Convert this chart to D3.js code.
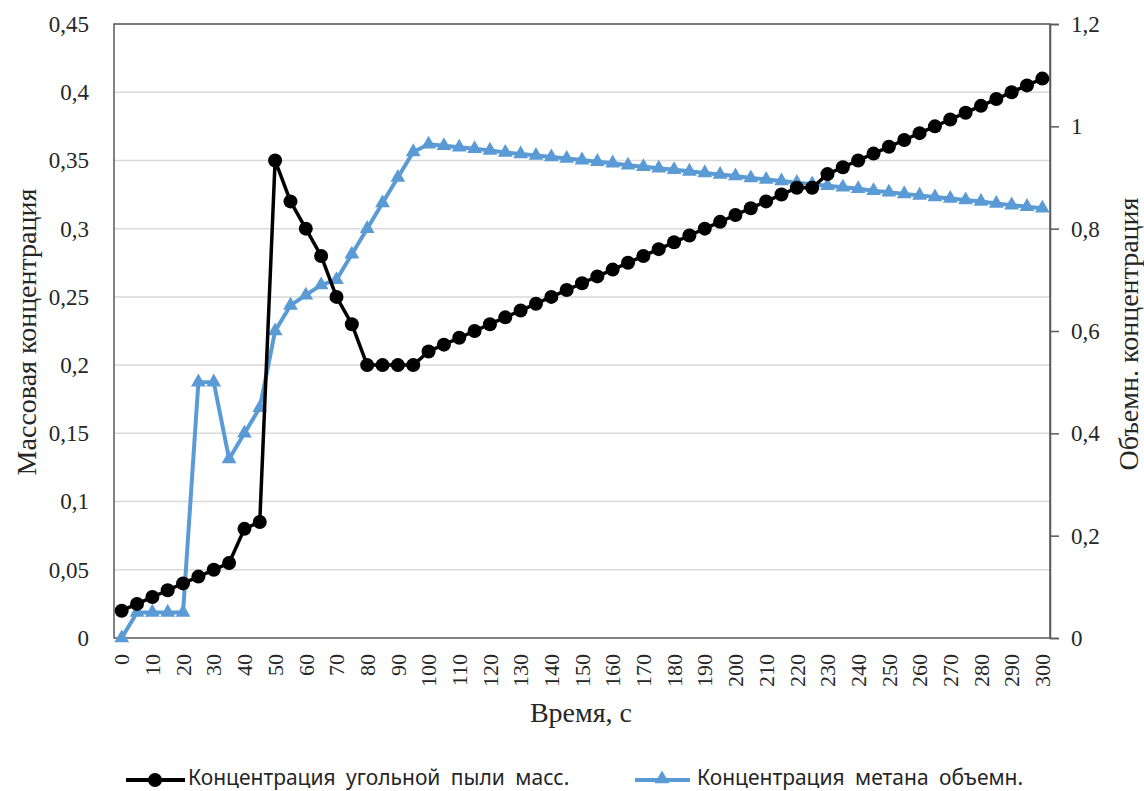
<!DOCTYPE html>
<html>
<head>
<meta charset="utf-8">
<script src="https://cdn.jsdelivr.net/npm/d3@7"></script>
<style>
  html, body { margin: 0; padding: 0; background: #fff; }
  svg { display: block; }
  svg text.serif { font-family: "Liberation Serif", "Times New Roman", Times, Tinos, "Noto Serif", "DejaVu Serif", FreeSerif, serif; }
</style>
</head>
<body>
<svg id="chart" width="1144" height="791"></svg>
<script>
// ---- Data ----
const times = [0,5,10,15,20,25,30,35,40,45,50,55,60,65,70,75,80,85,90,95,100,105,110,115,120,125,130,135,140,145,150,155,160,165,170,175,180,185,190,195,200,205,210,215,220,225,230,235,240,245,250,255,260,265,270,275,280,285,290,295,300];
const dustMass = [0.02,0.025,0.03,0.035,0.04,0.045,0.05,0.055,0.08,0.085,0.35,0.32,0.30,0.28,0.25,0.23,0.20,0.20,0.20,0.20,0.21,0.215,0.22,0.225,0.23,0.235,0.24,0.245,0.25,0.255,0.26,0.265,0.27,0.275,0.28,0.285,0.29,0.295,0.30,0.305,0.31,0.315,0.32,0.325,0.33,0.33,0.34,0.345,0.35,0.355,0.36,0.365,0.37,0.375,0.38,0.385,0.39,0.395,0.40,0.405,0.41];
const methaneVol = [0,0.05,0.05,0.05,0.05,0.5,0.5,0.35,0.4,0.45,0.6,0.65,0.67,0.69,0.7,0.75,0.8,0.85,0.9,0.95,0.965,0.962,0.959,0.956,0.953,0.949,0.946,0.943,0.94,0.937,0.934,0.931,0.928,0.924,0.921,0.918,0.915,0.912,0.909,0.906,0.903,0.899,0.896,0.893,0.89,0.887,0.884,0.881,0.878,0.874,0.871,0.868,0.865,0.862,0.859,0.856,0.853,0.849,0.846,0.843,0.84];
const leftTicks = [0,0.05,0.1,0.15,0.2,0.25,0.3,0.35,0.4,0.45];
const rightTicks = [0,0.2,0.4,0.6,0.8,1,1.2];
const xLabelTimes = times.filter(t => t % 10 === 0);
const seriesNames = ["Концентрация угольной пыли масс.", "Концентрация метана объемн."];
const axisTitles = { x: "Время, с", yLeft: "Массовая концентрация", yRight: "Объемн. концентрация" };

// ---- Layout ----
const L = 114, R = 1050, T = 24, B = 638;
const svg = d3.select("#chart");
const sans = "Noto Sans, DejaVu Sans, sans-serif";
const fmt = d => String(+d.toFixed(2)).replace(".", ",");

const x = d3.scaleBand().domain(times).range([L, R]).paddingInner(0).paddingOuter(0);
const cx = t => x(t) + x.bandwidth() / 2;
const yL = d3.scaleLinear().domain([0, 0.45]).range([B, T]);
const yR = d3.scaleLinear().domain([0, 1.2]).range([B, T]);

// gridlines
svg.append("g").selectAll("line").data(leftTicks.filter(d => d > 0)).join("line")
  .attr("x1", L).attr("x2", R).attr("y1", d => yL(d)).attr("y2", d => yL(d))
  .attr("stroke", "#d9d9d9").attr("stroke-width", 1.5);

// plot border
svg.append("rect").attr("x", L).attr("y", T).attr("width", R - L).attr("height", B - T)
  .attr("fill", "none").attr("stroke", "#595959").attr("stroke-width", 1.5);

// left axis
const gl = svg.append("g").attr("transform", `translate(${L},0)`)
  .call(d3.axisLeft(yL).tickValues(leftTicks).tickSize(0).tickPadding(25).tickFormat(fmt));
gl.attr("font-family", null);
gl.select(".domain").remove();
gl.selectAll("text").attr("class", "serif").attr("font-size", 23).attr("fill", "#262626");

// right axis
const gr = svg.append("g").attr("transform", `translate(${R},0)`)
  .call(d3.axisRight(yR).tickValues(rightTicks).tickSize(9).tickPadding(12).tickFormat(fmt));
gr.attr("font-family", null);
gr.select(".domain").attr("stroke", "#595959").attr("stroke-width", 1.5);
gr.selectAll(".tick line").attr("stroke", "#595959").attr("stroke-width", 1.5);
gr.selectAll("text").attr("class", "serif").attr("font-size", 23).attr("fill", "#262626");

// bottom axis
const gb = svg.append("g").attr("transform", `translate(0,${B})`)
  .call(d3.axisBottom(x).tickValues(xLabelTimes).tickSize(0));
gb.attr("font-family", null);
gb.select(".domain").remove();
gb.selectAll("text")
  .attr("transform", "rotate(-90)").attr("x", -16).attr("y", 0).attr("dy", "0.35em")
  .style("text-anchor", "end").attr("class", "serif").attr("font-size", 22).attr("fill", "#262626");

// axis titles
svg.append("text").attr("class", "serif").attr("x", 581).attr("y", 722).attr("text-anchor", "middle")
  .attr("font-size", 28).attr("fill", "#262626").text(axisTitles.x);
svg.append("text").attr("class", "serif").attr("transform", "translate(36,332) rotate(-90)").attr("text-anchor", "middle")
  .attr("font-size", 28).attr("fill", "#262626").text(axisTitles.yLeft);
svg.append("text").attr("class", "serif").attr("transform", "translate(1138,334) rotate(-90)").attr("text-anchor", "middle")
  .attr("font-size", 28).attr("fill", "#262626").text(axisTitles.yRight);

// series
const blue = "#5B9BD5";
const tri = d3.symbol().type(d3.symbolTriangle).size(95);

const lineL = d3.line().x((d, i) => cx(times[i])).y(d => yL(d));
const lineR = d3.line().x((d, i) => cx(times[i])).y(d => yR(d));

svg.append("path").datum(methaneVol).attr("d", lineR)
  .attr("fill", "none").attr("stroke", blue).attr("stroke-width", 4).attr("stroke-linejoin", "round");
svg.append("g").selectAll("path").data(methaneVol).join("path")
  .attr("d", tri).attr("transform", (d, i) => `translate(${cx(times[i])},${yR(d)})`).attr("fill", blue);

svg.append("path").datum(dustMass).attr("d", lineL)
  .attr("fill", "none").attr("stroke", "#000").attr("stroke-width", 3.5).attr("stroke-linejoin", "round");
svg.append("g").selectAll("circle").data(dustMass).join("circle")
  .attr("cx", (d, i) => cx(times[i])).attr("cy", d => yL(d)).attr("r", 7).attr("fill", "#000");

// legend
const lg = svg.append("g");
lg.append("line").attr("x1", 126).attr("x2", 185).attr("y1", 780).attr("y2", 780).attr("stroke", "#000").attr("stroke-width", 4);
lg.append("circle").attr("cx", 155).attr("cy", 780).attr("r", 7).attr("fill", "#000");
lg.append("text").attr("x", 188).attr("y", 785).attr("font-family", sans).attr("font-size", 21).style("word-spacing", "5px").attr("fill", "#262626").text(seriesNames[0]);
lg.append("line").attr("x1", 635).attr("x2", 690).attr("y1", 780).attr("y2", 780).attr("stroke", blue).attr("stroke-width", 4);
lg.append("path").attr("d", tri).attr("transform", "translate(662,779)").attr("fill", blue);
lg.append("text").attr("x", 697).attr("y", 785).attr("font-family", sans).attr("font-size", 21).style("word-spacing", "5px").attr("fill", "#262626").text(seriesNames[1]);
</script>
</body>
</html>
